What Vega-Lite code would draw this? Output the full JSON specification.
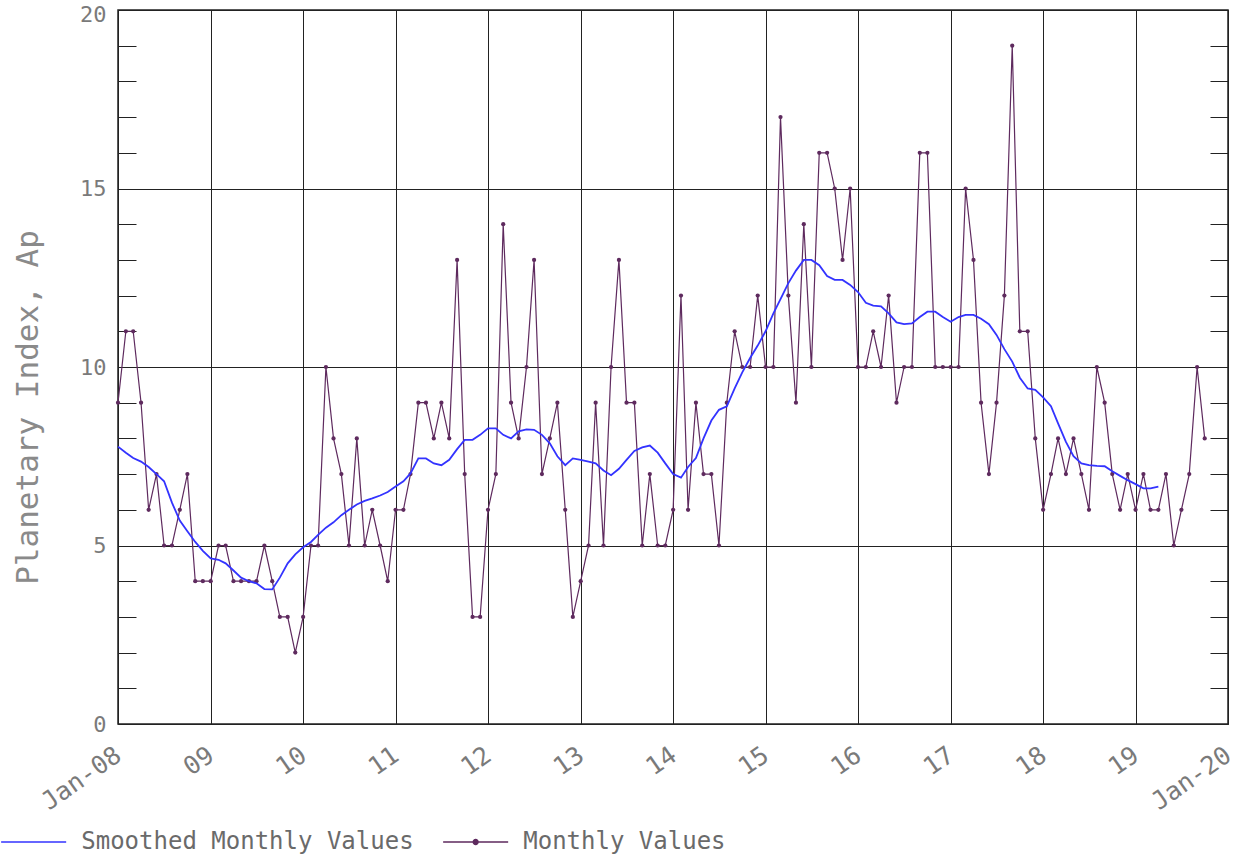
{
  "$schema": "https://vega.github.io/schema/vega-lite/v6.json",
  "width": 1110,
  "height": 714,
  "autosize": {"type": "none"},
  "padding": {"left": 118, "top": 10, "right": 8, "bottom": 132},
  "background": "white",
  "config": {"view": {"stroke": "#222", "strokeWidth": 1.5}, "font": "DejaVu Sans Mono"},
  "datasets": {
    "monthly": [
      {"date": "2008/01/01", "ap": 9}, {"date": "2008/02/01", "ap": 11}, {"date": "2008/03/01", "ap": 11}, {"date": "2008/04/01", "ap": 9}, {"date": "2008/05/01", "ap": 6}, {"date": "2008/06/01", "ap": 7}, {"date": "2008/07/01", "ap": 5}, {"date": "2008/08/01", "ap": 5}, {"date": "2008/09/01", "ap": 6}, {"date": "2008/10/01", "ap": 7}, {"date": "2008/11/01", "ap": 4}, {"date": "2008/12/01", "ap": 4},
      {"date": "2009/01/01", "ap": 4}, {"date": "2009/02/01", "ap": 5}, {"date": "2009/03/01", "ap": 5}, {"date": "2009/04/01", "ap": 4}, {"date": "2009/05/01", "ap": 4}, {"date": "2009/06/01", "ap": 4}, {"date": "2009/07/01", "ap": 4}, {"date": "2009/08/01", "ap": 5}, {"date": "2009/09/01", "ap": 4}, {"date": "2009/10/01", "ap": 3}, {"date": "2009/11/01", "ap": 3}, {"date": "2009/12/01", "ap": 2},
      {"date": "2010/01/01", "ap": 3}, {"date": "2010/02/01", "ap": 5}, {"date": "2010/03/01", "ap": 5}, {"date": "2010/04/01", "ap": 10}, {"date": "2010/05/01", "ap": 8}, {"date": "2010/06/01", "ap": 7}, {"date": "2010/07/01", "ap": 5}, {"date": "2010/08/01", "ap": 8}, {"date": "2010/09/01", "ap": 5}, {"date": "2010/10/01", "ap": 6}, {"date": "2010/11/01", "ap": 5}, {"date": "2010/12/01", "ap": 4},
      {"date": "2011/01/01", "ap": 6}, {"date": "2011/02/01", "ap": 6}, {"date": "2011/03/01", "ap": 7}, {"date": "2011/04/01", "ap": 9}, {"date": "2011/05/01", "ap": 9}, {"date": "2011/06/01", "ap": 8}, {"date": "2011/07/01", "ap": 9}, {"date": "2011/08/01", "ap": 8}, {"date": "2011/09/01", "ap": 13}, {"date": "2011/10/01", "ap": 7}, {"date": "2011/11/01", "ap": 3}, {"date": "2011/12/01", "ap": 3},
      {"date": "2012/01/01", "ap": 6}, {"date": "2012/02/01", "ap": 7}, {"date": "2012/03/01", "ap": 14}, {"date": "2012/04/01", "ap": 9}, {"date": "2012/05/01", "ap": 8}, {"date": "2012/06/01", "ap": 10}, {"date": "2012/07/01", "ap": 13}, {"date": "2012/08/01", "ap": 7}, {"date": "2012/09/01", "ap": 8}, {"date": "2012/10/01", "ap": 9}, {"date": "2012/11/01", "ap": 6}, {"date": "2012/12/01", "ap": 3},
      {"date": "2013/01/01", "ap": 4}, {"date": "2013/02/01", "ap": 5}, {"date": "2013/03/01", "ap": 9}, {"date": "2013/04/01", "ap": 5}, {"date": "2013/05/01", "ap": 10}, {"date": "2013/06/01", "ap": 13}, {"date": "2013/07/01", "ap": 9}, {"date": "2013/08/01", "ap": 9}, {"date": "2013/09/01", "ap": 5}, {"date": "2013/10/01", "ap": 7}, {"date": "2013/11/01", "ap": 5}, {"date": "2013/12/01", "ap": 5},
      {"date": "2014/01/01", "ap": 6}, {"date": "2014/02/01", "ap": 12}, {"date": "2014/03/01", "ap": 6}, {"date": "2014/04/01", "ap": 9}, {"date": "2014/05/01", "ap": 7}, {"date": "2014/06/01", "ap": 7}, {"date": "2014/07/01", "ap": 5}, {"date": "2014/08/01", "ap": 9}, {"date": "2014/09/01", "ap": 11}, {"date": "2014/10/01", "ap": 10}, {"date": "2014/11/01", "ap": 10}, {"date": "2014/12/01", "ap": 12},
      {"date": "2015/01/01", "ap": 10}, {"date": "2015/02/01", "ap": 10}, {"date": "2015/03/01", "ap": 17}, {"date": "2015/04/01", "ap": 12}, {"date": "2015/05/01", "ap": 9}, {"date": "2015/06/01", "ap": 14}, {"date": "2015/07/01", "ap": 10}, {"date": "2015/08/01", "ap": 16}, {"date": "2015/09/01", "ap": 16}, {"date": "2015/10/01", "ap": 15}, {"date": "2015/11/01", "ap": 13}, {"date": "2015/12/01", "ap": 15},
      {"date": "2016/01/01", "ap": 10}, {"date": "2016/02/01", "ap": 10}, {"date": "2016/03/01", "ap": 11}, {"date": "2016/04/01", "ap": 10}, {"date": "2016/05/01", "ap": 12}, {"date": "2016/06/01", "ap": 9}, {"date": "2016/07/01", "ap": 10}, {"date": "2016/08/01", "ap": 10}, {"date": "2016/09/01", "ap": 16}, {"date": "2016/10/01", "ap": 16}, {"date": "2016/11/01", "ap": 10}, {"date": "2016/12/01", "ap": 10},
      {"date": "2017/01/01", "ap": 10}, {"date": "2017/02/01", "ap": 10}, {"date": "2017/03/01", "ap": 15}, {"date": "2017/04/01", "ap": 13}, {"date": "2017/05/01", "ap": 9}, {"date": "2017/06/01", "ap": 7}, {"date": "2017/07/01", "ap": 9}, {"date": "2017/08/01", "ap": 12}, {"date": "2017/09/01", "ap": 19}, {"date": "2017/10/01", "ap": 11}, {"date": "2017/11/01", "ap": 11}, {"date": "2017/12/01", "ap": 8},
      {"date": "2018/01/01", "ap": 6}, {"date": "2018/02/01", "ap": 7}, {"date": "2018/03/01", "ap": 8}, {"date": "2018/04/01", "ap": 7}, {"date": "2018/05/01", "ap": 8}, {"date": "2018/06/01", "ap": 7}, {"date": "2018/07/01", "ap": 6}, {"date": "2018/08/01", "ap": 10}, {"date": "2018/09/01", "ap": 9}, {"date": "2018/10/01", "ap": 7}, {"date": "2018/11/01", "ap": 6}, {"date": "2018/12/01", "ap": 7},
      {"date": "2019/01/01", "ap": 6}, {"date": "2019/02/01", "ap": 7}, {"date": "2019/03/01", "ap": 6}, {"date": "2019/04/01", "ap": 6}, {"date": "2019/05/01", "ap": 7}, {"date": "2019/06/01", "ap": 5}, {"date": "2019/07/01", "ap": 6}, {"date": "2019/08/01", "ap": 7}, {"date": "2019/09/01", "ap": 10}, {"date": "2019/10/01", "ap": 8}
    ],
    "smoothed": [
      {"date": "2008/01/01", "ap": 7.77}, {"date": "2008/02/01", "ap": 7.6}, {"date": "2008/03/01", "ap": 7.45}, {"date": "2008/04/01", "ap": 7.35}, {"date": "2008/05/01", "ap": 7.2}, {"date": "2008/06/01", "ap": 7.0}, {"date": "2008/07/01", "ap": 6.8}, {"date": "2008/08/01", "ap": 6.2}, {"date": "2008/09/01", "ap": 5.7}, {"date": "2008/10/01", "ap": 5.4}, {"date": "2008/11/01", "ap": 5.1}, {"date": "2008/12/01", "ap": 4.85},
      {"date": "2009/01/01", "ap": 4.64}, {"date": "2009/02/01", "ap": 4.6}, {"date": "2009/03/01", "ap": 4.5}, {"date": "2009/04/01", "ap": 4.3}, {"date": "2009/05/01", "ap": 4.1}, {"date": "2009/06/01", "ap": 4.0}, {"date": "2009/07/01", "ap": 3.94}, {"date": "2009/08/01", "ap": 3.78}, {"date": "2009/09/01", "ap": 3.77}, {"date": "2009/10/01", "ap": 4.1}, {"date": "2009/11/01", "ap": 4.5}, {"date": "2009/12/01", "ap": 4.75},
      {"date": "2010/01/01", "ap": 4.95}, {"date": "2010/02/01", "ap": 5.1}, {"date": "2010/03/01", "ap": 5.3}, {"date": "2010/04/01", "ap": 5.5}, {"date": "2010/05/01", "ap": 5.65}, {"date": "2010/06/01", "ap": 5.85}, {"date": "2010/07/01", "ap": 6.0}, {"date": "2010/08/01", "ap": 6.15}, {"date": "2010/09/01", "ap": 6.25}, {"date": "2010/10/01", "ap": 6.32}, {"date": "2010/11/01", "ap": 6.4}, {"date": "2010/12/01", "ap": 6.5},
      {"date": "2011/01/01", "ap": 6.65}, {"date": "2011/02/01", "ap": 6.8}, {"date": "2011/03/01", "ap": 7.02}, {"date": "2011/04/01", "ap": 7.44}, {"date": "2011/05/01", "ap": 7.44}, {"date": "2011/06/01", "ap": 7.3}, {"date": "2011/07/01", "ap": 7.25}, {"date": "2011/08/01", "ap": 7.4}, {"date": "2011/09/01", "ap": 7.7}, {"date": "2011/10/01", "ap": 7.96}, {"date": "2011/11/01", "ap": 7.96}, {"date": "2011/12/01", "ap": 8.1},
      {"date": "2012/01/01", "ap": 8.28}, {"date": "2012/02/01", "ap": 8.28}, {"date": "2012/03/01", "ap": 8.1}, {"date": "2012/04/01", "ap": 8.0}, {"date": "2012/05/01", "ap": 8.2}, {"date": "2012/06/01", "ap": 8.25}, {"date": "2012/07/01", "ap": 8.24}, {"date": "2012/08/01", "ap": 8.1}, {"date": "2012/09/01", "ap": 7.86}, {"date": "2012/10/01", "ap": 7.5}, {"date": "2012/11/01", "ap": 7.25}, {"date": "2012/12/01", "ap": 7.44},
      {"date": "2013/01/01", "ap": 7.4}, {"date": "2013/02/01", "ap": 7.35}, {"date": "2013/03/01", "ap": 7.3}, {"date": "2013/04/01", "ap": 7.1}, {"date": "2013/05/01", "ap": 6.97}, {"date": "2013/06/01", "ap": 7.15}, {"date": "2013/07/01", "ap": 7.4}, {"date": "2013/08/01", "ap": 7.65}, {"date": "2013/09/01", "ap": 7.75}, {"date": "2013/10/01", "ap": 7.8}, {"date": "2013/11/01", "ap": 7.6}, {"date": "2013/12/01", "ap": 7.3},
      {"date": "2014/01/01", "ap": 7.0}, {"date": "2014/02/01", "ap": 6.9}, {"date": "2014/03/01", "ap": 7.2}, {"date": "2014/04/01", "ap": 7.45}, {"date": "2014/05/01", "ap": 8.0}, {"date": "2014/06/01", "ap": 8.5}, {"date": "2014/07/01", "ap": 8.8}, {"date": "2014/08/01", "ap": 8.9}, {"date": "2014/09/01", "ap": 9.4}, {"date": "2014/10/01", "ap": 9.85}, {"date": "2014/11/01", "ap": 10.25}, {"date": "2014/12/01", "ap": 10.6},
      {"date": "2015/01/01", "ap": 11.0}, {"date": "2015/02/01", "ap": 11.5}, {"date": "2015/03/01", "ap": 11.9}, {"date": "2015/04/01", "ap": 12.35}, {"date": "2015/05/01", "ap": 12.7}, {"date": "2015/06/01", "ap": 13.0}, {"date": "2015/07/01", "ap": 13.0}, {"date": "2015/08/01", "ap": 12.85}, {"date": "2015/09/01", "ap": 12.55}, {"date": "2015/10/01", "ap": 12.44}, {"date": "2015/11/01", "ap": 12.44}, {"date": "2015/12/01", "ap": 12.3},
      {"date": "2016/01/01", "ap": 12.1}, {"date": "2016/02/01", "ap": 11.8}, {"date": "2016/03/01", "ap": 11.72}, {"date": "2016/04/01", "ap": 11.7}, {"date": "2016/05/01", "ap": 11.5}, {"date": "2016/06/01", "ap": 11.25}, {"date": "2016/07/01", "ap": 11.2}, {"date": "2016/08/01", "ap": 11.22}, {"date": "2016/09/01", "ap": 11.4}, {"date": "2016/10/01", "ap": 11.55}, {"date": "2016/11/01", "ap": 11.55}, {"date": "2016/12/01", "ap": 11.4},
      {"date": "2017/01/01", "ap": 11.27}, {"date": "2017/02/01", "ap": 11.4}, {"date": "2017/03/01", "ap": 11.46}, {"date": "2017/04/01", "ap": 11.46}, {"date": "2017/05/01", "ap": 11.35}, {"date": "2017/06/01", "ap": 11.2}, {"date": "2017/07/01", "ap": 10.9}, {"date": "2017/08/01", "ap": 10.5}, {"date": "2017/09/01", "ap": 10.15}, {"date": "2017/10/01", "ap": 9.7}, {"date": "2017/11/01", "ap": 9.4}, {"date": "2017/12/01", "ap": 9.36},
      {"date": "2018/01/01", "ap": 9.15}, {"date": "2018/02/01", "ap": 8.9}, {"date": "2018/03/01", "ap": 8.42}, {"date": "2018/04/01", "ap": 7.9}, {"date": "2018/05/01", "ap": 7.5}, {"date": "2018/06/01", "ap": 7.3}, {"date": "2018/07/01", "ap": 7.25}, {"date": "2018/08/01", "ap": 7.23}, {"date": "2018/09/01", "ap": 7.22}, {"date": "2018/10/01", "ap": 7.08}, {"date": "2018/11/01", "ap": 6.95}, {"date": "2018/12/01", "ap": 6.83},
      {"date": "2019/01/01", "ap": 6.72}, {"date": "2019/02/01", "ap": 6.6}, {"date": "2019/03/01", "ap": 6.6}, {"date": "2019/04/01", "ap": 6.65}
    ]
  },
  "encoding": {
    "x": {
      "field": "date",
      "type": "temporal",
      "scale": {"domain": [{"year": 2008, "month": 1, "date": 1}, {"year": 2020, "month": 1, "date": 1}]},
      "axis": {
        "values": [
          {"year": 2008, "month": 1, "date": 1}, {"year": 2009, "month": 1, "date": 1}, {"year": 2010, "month": 1, "date": 1}, {"year": 2011, "month": 1, "date": 1}, {"year": 2012, "month": 1, "date": 1}, {"year": 2013, "month": 1, "date": 1}, {"year": 2014, "month": 1, "date": 1}, {"year": 2015, "month": 1, "date": 1}, {"year": 2016, "month": 1, "date": 1}, {"year": 2017, "month": 1, "date": 1}, {"year": 2018, "month": 1, "date": 1}, {"year": 2019, "month": 1, "date": 1}, {"year": 2020, "month": 1, "date": 1}
        ],
        "labelExpr": "(year(datum.value) === 2008 || year(datum.value) === 2020) ? 'Jan-' + timeFormat(datum.value, '%y') : timeFormat(datum.value, '%y')",
        "grid": true,
        "gridColor": "#222",
        "gridWidth": 1,
        "gridOpacity": 1,
        "ticks": false,
        "domain": false,
        "labelAngle": -35,
        "labelAlign": "right",
        "labelBaseline": "middle",
        "labelPadding": 28,
        "labelFontSize": 25,
        "labelFont": "DejaVu Sans Mono",
        "labelColor": "#7a7a7a",
        "labelFlush": false,
        "labelOverlap": false,
        "labelBound": false,
        "title": null
      }
    }
  },
  "layer": [
    {
      "data": {"name": "monthly"},
      "mark": {"type": "line", "strokeWidth": 1.2},
      "encoding": {
        "y": {
          "field": "ap",
          "type": "quantitative",
          "scale": {"domain": [0, 20], "nice": false},
          "axis": {
            "orient": "right",
            "values": [0, 1, 2, 3, 4, 5, 6, 7, 8, 9, 10, 11, 12, 13, 14, 15, 16, 17, 18, 19, 20],
            "labels": false,
            "grid": false,
            "domain": false,
            "tickSize": -18,
            "tickColor": "#222",
            "tickWidth": 1,
            "title": null
          }
        },
        "color": {"datum": "Monthly Values"}
      }
    },
    {
      "data": {"name": "monthly"},
      "mark": {"type": "point", "filled": true, "size": 18, "opacity": 1, "color": "#4a0a4a"},
      "encoding": {
        "y": {"field": "ap", "type": "quantitative", "axis": null},
        "color": {"datum": "Monthly Values"}
      }
    },
    {
      "data": {"name": "smoothed"},
      "mark": {"type": "line", "strokeWidth": 1.8},
      "encoding": {
        "y": {
          "field": "ap",
          "type": "quantitative",
          "axis": {
            "orient": "left",
            "values": [0, 1, 2, 3, 4, 5, 6, 7, 8, 9, 10, 11, 12, 13, 14, 15, 16, 17, 18, 19, 20],
            "labelExpr": "datum.value % 5 === 0 ? datum.label : ''",
            "labelOffset": {"condition": {"test": "datum.value === 20", "value": 4}, "value": 0},
            "grid": true,
            "gridColor": "#222",
            "gridWidth": 1,
            "gridOpacity": {"condition": {"test": "datum.value % 5 === 0", "value": 1}, "value": 0},
            "tickSize": -18,
            "tickColor": "#222",
            "tickWidth": 1,
            "domain": false,
            "labelPadding": 30,
            "labelFontSize": 22,
            "labelFont": "DejaVu Sans Mono",
            "labelColor": "#7a7a7a",
            "title": "Planetary Index, Ap",
            "titleFont": "DejaVu Sans Mono",
            "titleFontSize": 31,
            "titleFontWeight": "normal",
            "titleColor": "#8a8a8a",
            "titleAngle": -90,
            "titleX": -90,
            "titleY": 397,
            "titleAlign": "center",
            "titleBaseline": "middle"
          }
        },
        "color": {
          "datum": "Smoothed Monthly Values",
          "scale": {"domain": ["Smoothed Monthly Values", "Monthly Values"], "range": ["#3333ff", "#5e2a5e"]},
          "legend": {
            "orient": "none",
            "legendX": -96.35,
            "legendY": 820,
            "direction": "horizontal",
            "title": null,
            "padding": 0,
            "symbolSize": 470,
            "symbolStrokeWidth": 1.5,
            "labelFontSize": 24,
            "labelColor": "#6a6a6a",
            "labelFont": "DejaVu Sans Mono",
            "labelOffset": 35.6,
            "columnPadding": 26,
            "labelLimit": 400,
            "encode": {
              "symbols": {
                "update": {
                  "shape": {"signal": "datum.value === 'Monthly Values' ? 'M-3,0H3M-0.22,0A0.22,0.22 0 1,0 0.22,0A0.22,0.22 0 1,0 -0.22,0Z' : 'M-3,0H3'"},
                  "fill": {"signal": "datum.value === 'Monthly Values' ? '#4a0a4a' : 'transparent'"},
                  "stroke": {"signal": "datum.value === 'Monthly Values' ? '#5e2a5e' : '#3333ff'"},
                  "opacity": {"value": 1},
                  "strokeWidth": {"value": 1.5}
                }
              }
            }
          }
        }
      }
    }
  ],
  "resolve": {"axis": {"y": "independent"}}
}
